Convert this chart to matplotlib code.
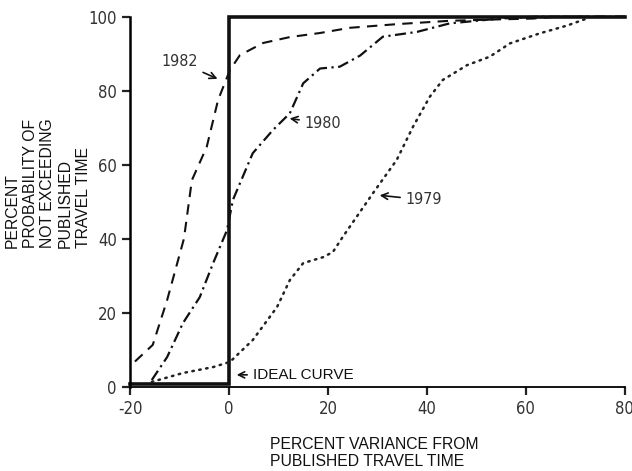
#!/usr/bin/env python

import matplotlib
matplotlib.use('Agg')
import matplotlib.pyplot as plt

# ideal curve
ideal_x = [-20, 0, 0, 80]
ideal_y = [0.6, 0.6, 100, 100]

# 1982 (dashed)
x1982 = [-19.0, -15.4, -12.5, -9.1, -7.5, -4.5, -2.2, 0.2, 2.2, 6.9, 12.3, 18.4, 24.4, 34.0, 44.6, 55.0, 61.4, 66.0, 80.0]
y1982 = [6.8, 11.3, 23.4, 40.0, 55.8, 64.8, 77.5, 85.6, 89.6, 92.9, 94.5, 95.6, 97.0, 98.0, 98.9, 99.3, 99.5, 100.0, 100.0]

# 1980 (dash-dot)
x1980 = [-15.6, -12.5, -9.3, -5.9, -3.2, -0.4, 0.8, 4.8, 8.9, 12.3, 15.0, 18.4, 22.4, 26.5, 31.1, 38.0, 44.6, 54.7, 62.0, 80.0]
y1980 = [1.8, 8.0, 17.2, 24.2, 33.4, 42.3, 50.5, 63.1, 69.4, 73.9, 82.0, 86.0, 86.5, 89.5, 94.6, 95.9, 98.2, 99.5, 100.0, 100.0]

# 1979 (dotted)
x1979 = [-15.6, -9.3, -3.2, 0.2, 4.8, 9.7, 12.3, 15.0, 19.0, 21.0, 23.0, 29.1, 33.9, 37.2, 40.6, 43.2, 48.1, 52.7, 56.8, 62.8, 68.3, 72.3]
y1979 = [1.3, 3.7, 5.3, 6.7, 12.6, 21.5, 28.8, 33.4, 35.0, 36.4, 40.5, 52.3, 61.3, 70.3, 78.4, 82.9, 86.9, 89.2, 92.8, 95.5, 97.6, 99.5]

xticks = [-20, 0, 20, 40, 60, 80]
yticks = [0, 20, 40, 60, 80, 100]


def main():
    plt.rcParams['font.family'] = ['DejaVu Sans']
    plt.rcParams['font.stretch'] = 'condensed'
    plt.rcParams['axes.unicode_minus'] = False
    fig = plt.figure(figsize=(6.32, 4.71), dpi=100)
    ax = fig.add_axes([0.2057, 0.179, 0.783, 0.7855])

    ax.plot(ideal_x, ideal_y, color='#111111', lw=2.6, clip_on=False, solid_joinstyle='miter')
    ax.plot(x1982, y1982, color='#111111', lw=1.5, ls=(0, (5, 3.5)), clip_on=False)
    ax.plot(x1980, y1980, color='#111111', lw=1.6, ls=(0, (5, 2, 1, 2)), clip_on=False)
    ax.plot(x1979, y1979, color='#222222', lw=1.8, ls=(0, (0.6, 2.2)), dash_capstyle='round', clip_on=False)

    ax.set_xlim(-20, 80)
    ax.set_ylim(0, 100)
    ax.set_xticks(xticks)
    ax.set_yticks(yticks)
    ax.tick_params(direction='out', length=6, width=1.6, labelsize=12, color='#222222', labelcolor='#333333')
    ax.spines['top'].set_visible(False)
    ax.spines['right'].set_visible(False)
    ax.spines['left'].set_linewidth(1.8)
    ax.spines['bottom'].set_linewidth(1.3)

    arrow = dict(arrowstyle='->', color='#111111', lw=1.2)
    ax.annotate('1982', xy=(-1.8, 82.9), xytext=(-10.0, 87.8), fontsize=11.5, ha='center', va='center',
                color='#333333', arrowprops=arrow)
    ax.annotate('1980', xy=(11.7, 72.6), xytext=(19.0, 71.2), fontsize=11.5, ha='center', va='center',
                color='#333333', arrowprops=arrow)
    ax.annotate('1979', xy=(29.9, 51.8), xytext=(39.4, 50.5), fontsize=11.5, ha='center', va='center',
                color='#333333', arrowprops=arrow)
    ax.annotate('IDEAL CURVE', xy=(1.0, 3.2), xytext=(4.8, 3.2), fontsize=11, ha='left', va='center',
                family='Liberation Sans', stretch='normal', color='#111111', arrowprops=arrow)

    fig.text(0.427, 0.038, 'PERCENT VARIANCE FROM\nPUBLISHED TRAVEL TIME', ha='left', va='center',
             multialignment='left', fontsize=11.3, family='Liberation Sans', stretch='normal',
             linespacing=1.2, color='#111111')
    fig.text(0.008, 0.473, 'PERCENT\nPROBABILITY OF\nNOT EXCEEDING\nPUBLISHED\nTRAVEL TIME', rotation=90,
             ha='left', va='bottom', multialignment='left', fontsize=11.3, family='Liberation Sans',
             stretch='normal', linespacing=1.22, color='#111111')

    plt.savefig('out.png', dpi=100)


if __name__ == '__main__':
    main()
